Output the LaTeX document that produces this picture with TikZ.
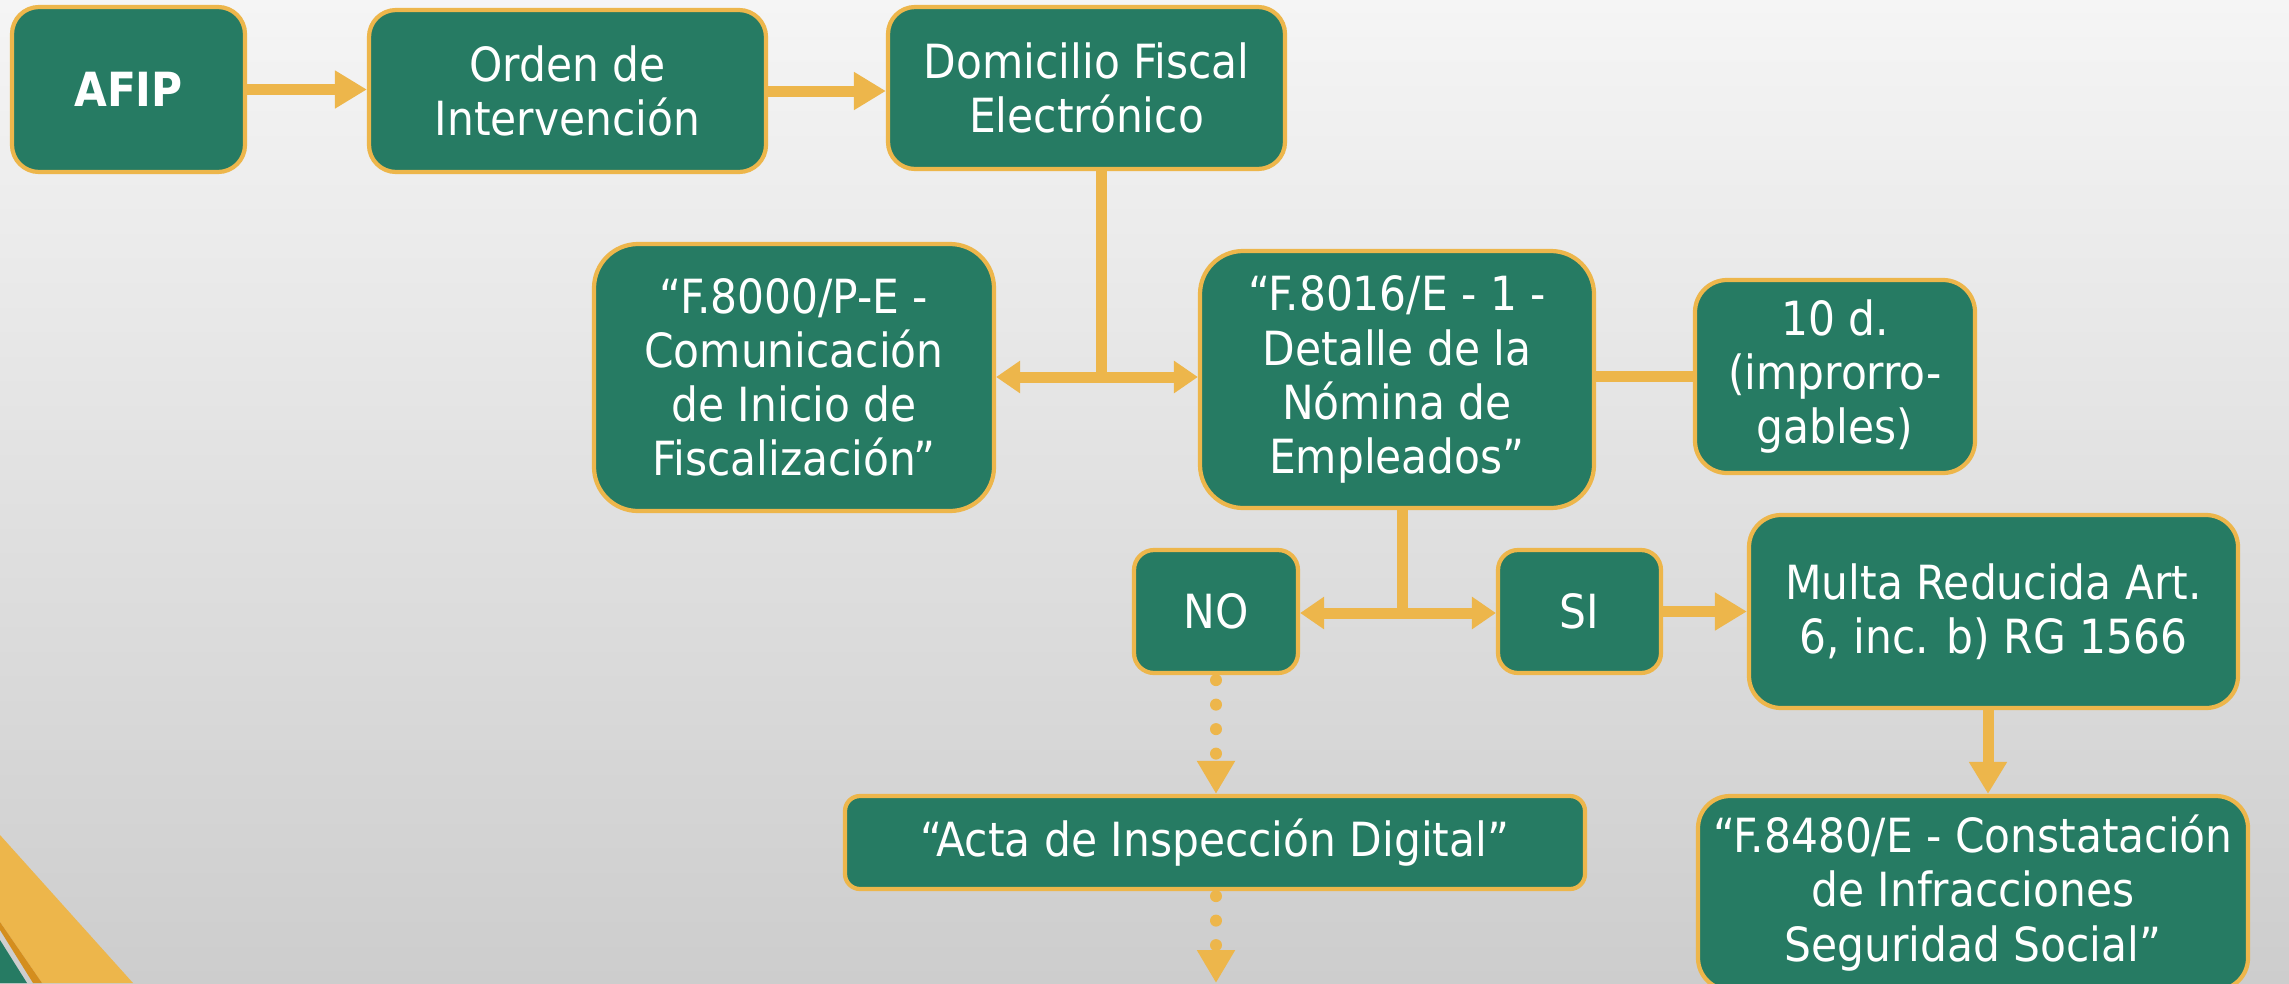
\documentclass[tikz,border=0pt]{standalone}
\usepackage{fontspec}
\setmainfont{DejaVu Sans Condensed}
\usetikzlibrary{arrows.meta}

\definecolor{boxgreen}{HTML}{267B63}
\definecolor{linegold}{HTML}{EDB64B}
\definecolor{darkgold}{HTML}{D48E1E}
\definecolor{bgtop}{HTML}{F5F5F5}
\definecolor{bgbottom}{HTML}{CDCDCD}

\begin{document}
\begin{tikzpicture}[
  box/.style={draw=linegold, line width=1.2pt, fill=boxgreen, text=white, align=center, inner sep=0pt, font=\fontsize{13.4}{15.4}\selectfont},
  link/.style={draw=linegold, line width=0.11cm},
  arr/.style={link, -{Triangle[width=0.36cm,length=0.32cm]}},
  biarr/.style={link, {Triangle[width=0.31cm,length=0.24cm]}-{Triangle[width=0.31cm,length=0.24cm]}},
  dotarr/.style={draw=linegold, line width=0.12cm, line cap=round, dash pattern=on 0pt off 0.245cm, shorten <=0.05cm, -{Triangle[width=0.36cm,length=0.33cm]}}
]
\useasboundingbox (0,0) rectangle (22.89,9.83);
\clip (0,0) rectangle (22.89,9.83);
\shade [top color=bgtop, bottom color=bgbottom] (0,0) rectangle (22.89,9.83);

\fill [linegold] (0,1.48) -- (1.33,0) -- (0.42,0) -- (0,0.61) -- cycle;
\fill [darkgold] (0,0.61) -- (0.42,0) -- (0.33,0) -- (0,0.53) -- cycle;
\fill [boxgreen] (0,0.43) -- (0.27,0) -- (0,0) -- cycle;

\node [box, minimum width=2.33cm, minimum height=1.65cm, rounded corners=0.27cm] (afip) at (1.285,8.935) {\textbf{AFIP}};
\node [box, minimum width=3.97cm, minimum height=1.62cm, rounded corners=0.27cm] (orden) at (5.675,8.92) {Orden de\\Intervención};
\node [box, minimum width=3.97cm, minimum height=1.62cm, rounded corners=0.27cm] (domic) at (10.865,8.95) {Domicilio Fiscal\\Electrónico};

\node [box, minimum width=4.0cm, minimum height=2.67cm, rounded corners=0.44cm] (f8000) at (7.94,6.055) {“F.8000/P-E -\\Comunicación\\de Inicio de\\Fiscalización”};
\node [box, minimum width=3.94cm, minimum height=2.57cm, rounded corners=0.43cm] (f8016) at (13.97,6.035) {“F.8016/E - 1 -\\Detalle de la\\Nómina de\\Empleados”};
\node [box, minimum width=2.8cm, minimum height=1.93cm, rounded corners=0.32cm] (dias) at (18.35,6.065) {10 d.\\(improrro-\\gables)};

\node [box, minimum width=1.64cm, minimum height=1.23cm, rounded corners=0.2cm] (no) at (12.16,3.715) {NO};
\node [box, minimum width=1.63cm, minimum height=1.23cm, rounded corners=0.2cm] (si) at (15.795,3.715) {SI};
\node [box, minimum width=4.89cm, minimum height=1.93cm, rounded corners=0.32cm] (multa) at (19.935,3.715) {Multa Reducida Art.\\6, inc. b) RG 1566};

\node [box, minimum width=7.4cm, minimum height=0.93cm, rounded corners=0.15cm] (acta) at (12.15,1.405) {“Acta de Inspección Digital”};
\node [box, minimum width=5.5cm, minimum height=1.94cm, rounded corners=0.32cm] (f8480) at (19.73,0.9) {“F.8480/E - Constatación\\de Infracciones\\Seguridad Social”};

\draw [arr] (afip.east) -- (afip.east -| orden.west);
\draw [arr] (orden.east) -- (orden.east -| domic.west);

\coordinate (split1) at (11.01,6.06);
\draw [link] (domic.south -| split1) -- (split1);
\draw [biarr] (split1 -| f8000.east) -- (split1 -| f8016.west);
\draw [link] (f8016.east |- dias.west) -- (dias.west);

\coordinate (split2) at (14.02,3.70);
\draw [link] (f8016.south -| split2) -- (split2);
\draw [biarr] (split2 -| no.east) -- (split2 -| si.west);
\draw [arr] (si.east) -- (si.east -| multa.west);

\coordinate (drop) at (19.88,0.5);
\draw [arr] (multa.south -| drop) -- (f8480.north -| drop);

\coordinate (exit) at (12.16,0);
\draw [dotarr] (no.south) -- (no.south |- acta.north);
\draw [dotarr] (acta.south -| exit) -- (exit);
\end{tikzpicture}
\end{document}
